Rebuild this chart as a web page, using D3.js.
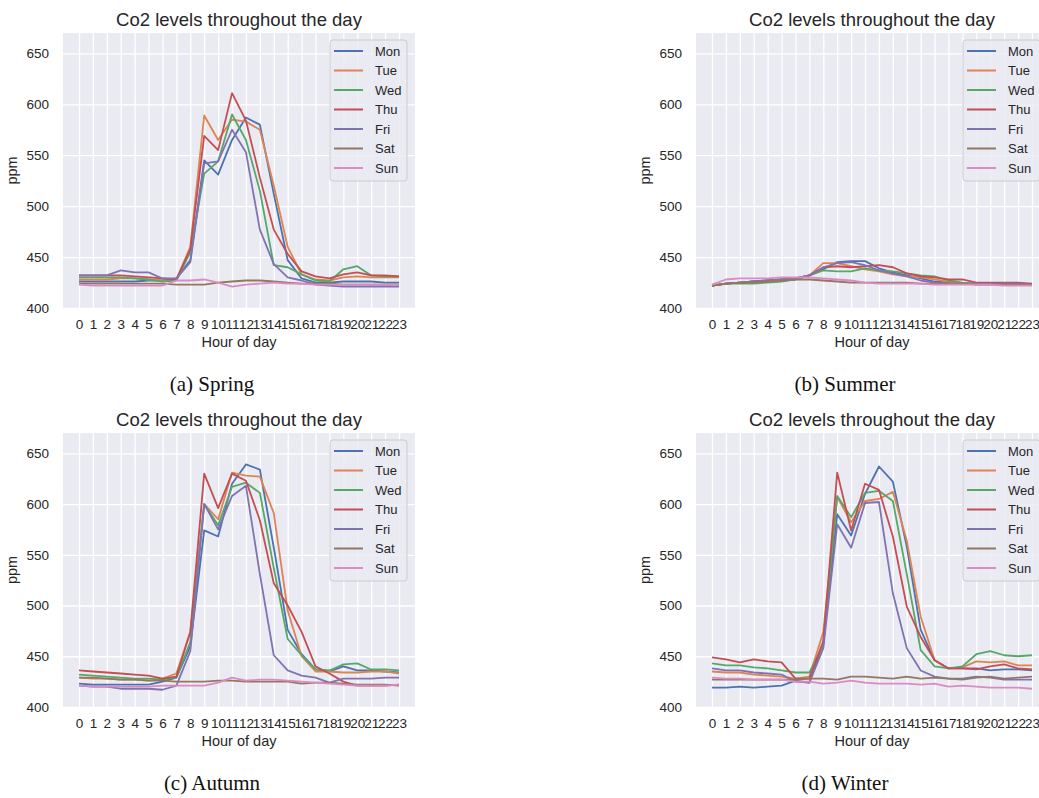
<!DOCTYPE html>
<html><head><meta charset="utf-8">
<script src="https://cdn.jsdelivr.net/npm/d3@7"></script>
<style>body{margin:0;background:#fff}</style>
</head><body><svg id="c" width="1039" height="798"></svg>
<script>
const hours = [0,1,2,3,4,5,6,7,8,9,10,11,12,13,14,15,16,17,18,19,20,21,22,23];
const days = ["Mon","Tue","Wed","Thu","Fri","Sat","Sun"];
const yTicks = [400,450,500,550,600,650];
const titleText = "Co2 levels throughout the day";
const xLabel = "Hour of day";
const yLabel = "ppm";
const captions = ["(a) Spring","(b) Summer","(c) Autumn","(d) Winter"];

// values per day (Mon..Sun), per hour 0..23
const spring = [
  [426,426,426,426,426,427,427,429,447,545,531,565,587,580,512,447,429,425,425,426,426,426,425,425],
  [428,428,428,429,429,428,427,428,460,589,565,585,583,575,520,460,433,428,427,430,431,430,430,430],
  [430,430,430,430,429,428,426,427,455,532,544,590,565,515,442,440,433,427,426,438,441,432,431,431],
  [432,432,432,432,431,430,429,428,458,569,555,611,584,528,477,453,436,431,429,433,435,432,432,431],
  [432,432,432,437,435,435,429,429,445,542,544,575,553,477,443,430,427,423,422,421,421,421,421,421],
  [424,424,424,424,424,424,424,423,423,423,425,426,427,427,426,425,424,424,424,423,423,423,423,423],
  [423,422,422,422,422,422,422,427,427,428,425,421,423,424,425,424,424,423,423,423,423,423,423,423]
];
const summer = [
  [422,424,425,426,427,427,428,432,438,445,446,446,439,435,432,429,426,425,424,424,424,424,424,423],
  [422,424,425,426,427,428,429,432,444,444,441,438,436,433,431,430,428,426,424,424,424,424,424,423],
  [422,424,424,424,425,426,428,432,437,436,436,439,437,436,434,432,431,427,425,424,424,424,424,423],
  [422,424,425,426,427,428,429,432,440,441,440,441,442,440,434,431,430,428,428,425,425,425,425,424],
  [422,424,425,426,427,428,429,432,440,444,445,442,437,434,431,427,425,424,424,424,424,424,424,423],
  [422,424,425,425,426,427,428,428,427,426,425,425,425,425,425,424,424,424,424,423,423,423,423,423],
  [423,428,429,429,429,430,430,430,429,428,427,425,424,424,424,424,423,423,423,423,423,422,422,422]
];
const autumn = [
  [423,422,422,422,422,422,425,429,460,574,568,620,639,634,557,476,452,437,435,440,436,436,435,434],
  [429,428,428,427,427,426,428,433,474,600,585,631,628,627,591,495,450,435,435,434,434,435,435,433],
  [432,431,430,429,428,428,427,429,464,600,579,617,621,611,537,467,451,437,436,442,443,437,437,436],
  [436,435,434,433,432,431,428,430,474,630,596,630,623,584,522,500,474,440,433,425,421,421,421,422],
  [421,420,420,418,418,418,417,421,455,600,575,608,618,531,451,436,431,429,424,428,428,428,429,429],
  [429,429,428,427,427,426,426,425,425,425,426,426,425,425,425,425,423,424,424,423,422,422,422,421],
  [421,420,420,420,420,420,421,421,421,421,424,429,426,427,427,426,425,424,423,422,421,421,421,422]
];
const winter = [
  [419,419,420,419,420,421,426,424,463,590,569,610,637,622,558,476,446,438,438,438,436,437,437,436],
  [435,434,434,432,431,430,428,430,474,607,582,603,605,612,564,489,446,438,439,445,444,445,441,441],
  [443,441,441,439,438,436,434,434,461,608,587,611,613,603,531,456,440,438,440,452,455,451,450,451],
  [449,447,444,447,445,444,428,428,465,631,574,620,614,568,499,469,446,438,438,437,440,442,438,437],
  [438,436,436,434,433,432,425,424,458,580,557,601,602,512,458,436,430,428,428,430,429,427,427,427],
  [427,427,427,427,427,427,427,428,428,427,430,430,429,428,430,428,429,428,427,429,430,428,429,430],
  [429,428,428,427,427,427,425,425,423,424,426,424,423,423,423,422,423,420,421,420,419,419,419,418]
];

const palette = ["#4C72B0","#DD8452","#55A868","#C44E52","#8172B3","#937860","#DA8BC3"];
const seasons = [spring, summer, autumn, winter];
const layout = [
  {left:63, top:33, h:275, capX:212, capY:391},
  {left:696, top:33, h:275, capX:845, capY:391},
  {left:63, top:433, h:274, capX:212, capY:790},
  {left:696, top:433, h:274, capX:845, capY:790}
];
const W = 352;
const sans = "'Liberation Sans', Arial, sans-serif";
const textColor = "#262626";

const svg = d3.select("#c");

seasons.forEach((series, p) => {
  const L = layout[p];
  const x = d3.scaleLinear().domain([-1.15, 24.15]).range([0, W]);
  const y = d3.scaleLinear().domain([400, 670]).range([L.h, 0]);
  const g = svg.append("g").attr("transform", `translate(${L.left},${L.top})`);

  g.append("rect").attr("width", W).attr("height", L.h).attr("fill", "#EAEAF2");

  // grids
  const gx = g.append("g").attr("transform", `translate(0,${L.h})`)
    .call(d3.axisBottom(x).tickValues(hours).tickSize(-L.h).tickFormat(""));
  gx.select(".domain").remove();
  gx.selectAll("line").attr("stroke", "#fff").attr("stroke-width", 1.3);
  const gy = g.append("g")
    .call(d3.axisLeft(y).tickValues(yTicks).tickSize(-W).tickFormat(""));
  gy.select(".domain").remove();
  gy.selectAll("line").attr("stroke", "#fff").attr("stroke-width", 1.3);

  // tick labels
  const tx = g.append("g").attr("transform", `translate(0,${L.h})`)
    .call(d3.axisBottom(x).tickValues(hours).tickSize(0).tickPadding(11));
  tx.select(".domain").remove();
  tx.selectAll("text").attr("font-family", sans).attr("font-size", 13.5).attr("fill", textColor);
  const ty = g.append("g")
    .call(d3.axisLeft(y).tickValues(yTicks).tickSize(0).tickPadding(14));
  ty.select(".domain").remove();
  ty.selectAll("text").attr("font-family", sans).attr("font-size", 13.5).attr("fill", textColor);

  // lines
  const line = d3.line().x((d, i) => x(hours[i])).y(d => y(d));
  series.forEach((vals, k) => {
    g.append("path").datum(vals).attr("d", line)
      .attr("fill", "none").attr("stroke", palette[k]).attr("stroke-width", 1.8)
      .attr("stroke-linejoin", "round");
  });

  // title & labels
  g.append("text").attr("x", W / 2).attr("y", -7).attr("text-anchor", "middle")
    .attr("font-family", sans).attr("font-size", 18.5).attr("fill", textColor).text(titleText);
  g.append("text").attr("x", W / 2).attr("y", L.h + 38.7).attr("text-anchor", "middle")
    .attr("font-family", sans).attr("font-size", 14.5).attr("fill", textColor).text(xLabel);
  g.append("text").attr("transform", `translate(-46,${L.h / 2}) rotate(-90)`).attr("text-anchor", "middle")
    .attr("font-family", sans).attr("font-size", 14.5).attr("fill", textColor).text(yLabel);

  // legend
  const lg = g.append("g").attr("transform", `translate(${W - 85},7)`);
  lg.append("rect").attr("width", 77).attr("height", 141).attr("rx", 3)
    .attr("fill", "#EAEAF2").attr("fill-opacity", 0.8).attr("stroke", "#cccccc").attr("stroke-width", 1);
  days.forEach((d, k) => {
    const yy = 11 + k * 19.5;
    lg.append("line").attr("x1", 4).attr("x2", 33).attr("y1", yy).attr("y2", yy)
      .attr("stroke", palette[k]).attr("stroke-width", 2);
    lg.append("text").attr("x", 45).attr("y", yy).attr("dy", "0.35em")
      .attr("font-family", sans).attr("font-size", 13).attr("fill", textColor).text(d);
  });

  // caption
  svg.append("text").attr("x", L.capX).attr("y", L.capY).attr("text-anchor", "middle")
    .attr("font-family", "'Liberation Serif', 'Times New Roman', serif").attr("font-size", 21)
    .attr("fill", "#111").text(captions[p]);
});
</script></body></html>
